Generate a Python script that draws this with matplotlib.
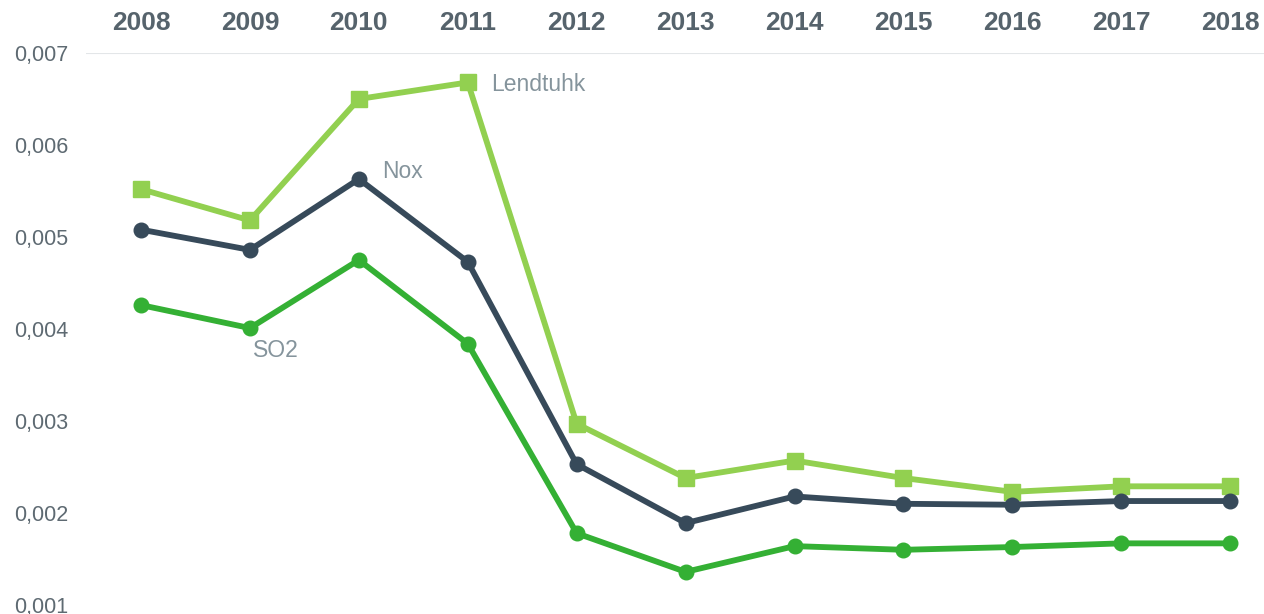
import matplotlib
matplotlib.use("Agg")
import matplotlib.pyplot as plt

years = ["2008", "2009", "2010", "2011", "2012", "2013", "2014", "2015", "2016", "2017", "2018"]
lendtuhk = [0.00552, 0.00518, 0.00650, 0.00668, 0.00297, 0.00238, 0.00257, 0.00238, 0.00223, 0.00229, 0.00229]
nox = [0.00508, 0.00486, 0.00563, 0.00473, 0.00253, 0.00189, 0.00218, 0.00210, 0.00209, 0.00213, 0.00213]
so2 = [0.00426, 0.00401, 0.00475, 0.00384, 0.00178, 0.00136, 0.00164, 0.00160, 0.00163, 0.00167, 0.00167]
yticks = [0.001, 0.002, 0.003, 0.004, 0.005, 0.006, 0.007]
ytick_labels = ["0,001", "0,002", "0,003", "0,004", "0,005", "0,006", "0,007"]

plt.rcParams['font.family'] = ['Liberation Sans', 'DejaVu Sans']

fig = plt.figure(figsize=(12.64, 6.14), dpi=100)
ax = fig.add_axes([86/1264, 1-605/614, 1-86/1264, (605-53)/614])

x = list(range(len(years)))
c_lend = "#92d050"
c_nox = "#374a5a"
c_so2 = "#34b034"

ax.plot(x, lendtuhk, color=c_lend, lw=4.2, marker="s", ms=11.5, clip_on=False, zorder=3)
ax.plot(x, nox, color=c_nox, lw=4.2, marker="o", ms=10.5, clip_on=False, zorder=4)
ax.plot(x, so2, color=c_so2, lw=4.2, marker="o", ms=10.5, clip_on=False, zorder=3)

lab_color = "#85949c"
ax.text(x[3] + 0.21, lendtuhk[3] - 0.00002, "Lendtuhk", color=lab_color, fontsize=16.5, va="center", ha="left")
ax.text(x[2] + 0.21, nox[2] + 0.00008, "Nox", color=lab_color, fontsize=16.5, va="center", ha="left")
ax.text(x[1] + 0.03, so2[1] - 0.00024, "SO2", color=lab_color, fontsize=16.5, va="center", ha="left")

ax.set_xlim(-0.505, 10.31)
ax.set_ylim(0.001, 0.007)
ax.set_yticks(yticks)
ax.set_yticklabels(ytick_labels)
ax.set_xticks(x)
ax.set_xticklabels(years)
ax.xaxis.tick_top()
ax.tick_params(axis="x", length=0, pad=13, labelsize=19, labelcolor="#56636c")
for t in ax.get_xticklabels():
    t.set_fontweight("bold")
ax.tick_params(axis="y", length=0, pad=(86-14)/100*72, labelsize=15.5, labelcolor="#5e6a72")
for t in ax.get_yticklabels():
    t.set_horizontalalignment("left")

for s in ax.spines.values():
    s.set_visible(False)
ax.axhline(0.007, color="#e3e6e8", lw=1.5, zorder=1)

fig.savefig("out.png", dpi=100)
